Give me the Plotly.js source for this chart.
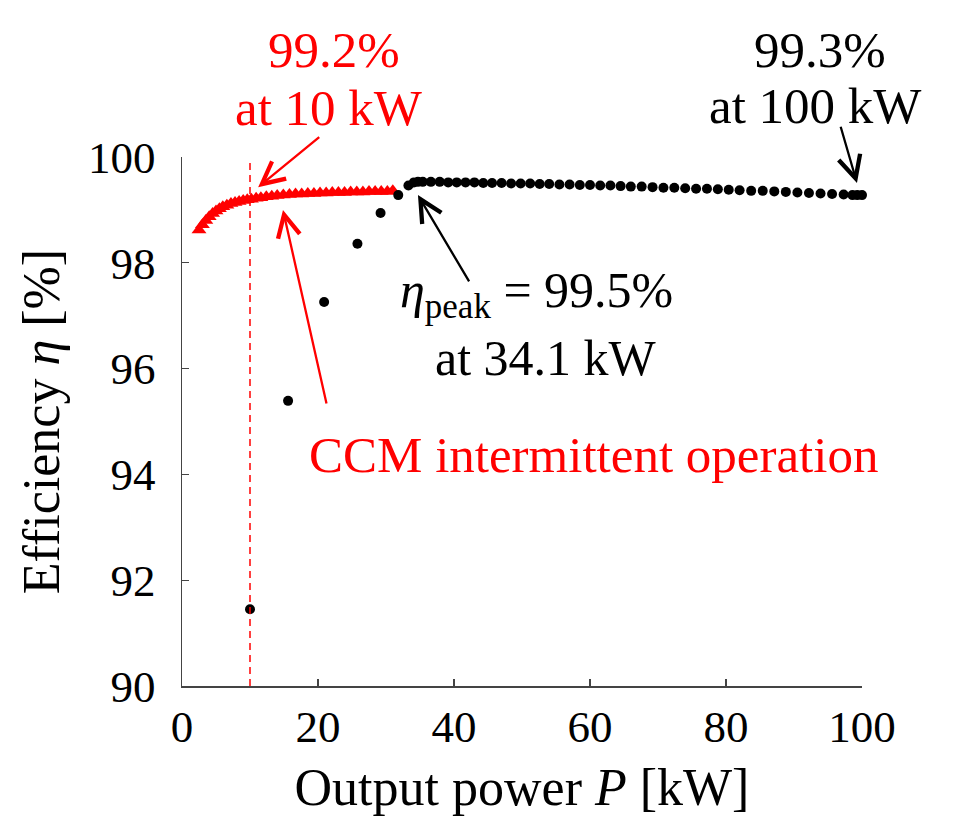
<!DOCTYPE html>
<html>
<head>
<meta charset="utf-8">
<script src="https://cdn.plot.ly/plotly-3.0.1.min.js"></script>
<style>
html,body{margin:0;padding:0;background:#fff;}
#chart{width:960px;height:821px;}
#chart svg text{font-family:'Liberation Serif','DejaVu Serif' !important;}
</style>
</head>
<body>
<div id="chart"></div>
<script>
// CCM intermittent operation (red triangles)
const ccmPower = [2.5, 3.0, 3.5, 4.0, 4.5, 5.0, 5.5, 6.0, 6.6, 7.2, 7.8, 8.4, 9.0, 9.6, 10.2, 10.9, 11.6, 12.4, 13.2, 14.0, 14.9, 15.8, 16.7, 17.6, 18.5, 19.4, 20.3, 21.2, 22.1, 23.0, 23.9, 24.8, 25.7, 26.6, 27.5, 28.4, 29.3, 30.2, 31.0];
const ccmEff = [98.62, 98.72, 98.80, 98.87, 98.93, 98.98, 99.02, 99.06, 99.09, 99.12, 99.14, 99.16, 99.18, 99.19, 99.20, 99.22, 99.23, 99.25, 99.26, 99.27, 99.28, 99.29, 99.30, 99.30, 99.31, 99.31, 99.32, 99.32, 99.33, 99.33, 99.33, 99.34, 99.34, 99.34, 99.35, 99.35, 99.35, 99.35, 99.36];

// Normal operation (black dots)
const normPower = [10.0, 15.6, 20.9, 25.8, 29.2, 31.8, 33.3, 34.1, 34.7, 35.4, 36.6, 37.9, 39.15, 40.4, 41.7, 43.0, 44.3, 45.6, 47.0, 48.4, 49.8, 51.2, 52.6, 54.0, 55.5, 57.0, 58.5, 60.0, 61.5, 63.0, 64.5, 66.0, 67.6, 69.2, 70.8, 72.4, 74.0, 75.6, 77.2, 78.8, 80.4, 82.0, 83.7, 85.4, 87.1, 88.8, 90.5, 92.2, 93.9, 95.6, 97.3, 98.6, 99.3, 100.0];
const normEff = [91.45, 95.39, 97.26, 98.36, 98.94, 99.28, 99.46, 99.52, 99.53, 99.53, 99.53, 99.53, 99.52, 99.52, 99.52, 99.52, 99.51, 99.51, 99.51, 99.50, 99.50, 99.50, 99.49, 99.49, 99.48, 99.48, 99.47, 99.47, 99.46, 99.46, 99.45, 99.44, 99.44, 99.43, 99.42, 99.42, 99.41, 99.40, 99.40, 99.39, 99.38, 99.37, 99.36, 99.36, 99.35, 99.34, 99.33, 99.32, 99.31, 99.30, 99.29, 99.28, 99.28, 99.28];

const xTicks = [0, 20, 40, 60, 80, 100];
const yTicks = [90, 92, 94, 96, 98, 100];

const FONT = 'Liberation Serif, DejaVu Serif';
const RED = '#ff0000';

const traces = [
  {x: ccmPower, y: ccmEff, type: 'scatter', mode: 'markers',
   marker: {symbol: 'triangle-up', size: 13, color: RED}, cliponaxis: false, hoverinfo: 'skip'},
  {x: normPower, y: normEff, type: 'scatter', mode: 'markers',
   marker: {symbol: 'circle', size: 10, color: '#000'}, cliponaxis: false, hoverinfo: 'skip'}
];

// text annotations positioned in paper coordinates (plot area spans pixels 157..686 vertically)
function txt(text, x, py, color, size) {
  return {text: text, x: x, y: (686 - py) / 529, xref: 'x', yref: 'paper', showarrow: false,
    xanchor: 'center', yanchor: 'middle', font: {family: FONT, size: size || 51, color: color}};
}
function arr(x, y, ax, ay, color) {
  return {text: '', x: x, y: y, ax: ax, ay: ay, xref: 'x', yref: 'y', axref: 'x', ayref: 'y',
    showarrow: true, arrowhead: 5, arrowsize: 1.9, arrowwidth: 2.3, arrowcolor: color};
}

const layout = {
  width: 960, height: 821,
  margin: {l: 182, r: 98, t: 157, b: 135},
  paper_bgcolor: '#fff', plot_bgcolor: '#fff',
  showlegend: false,
  xaxis: {range: [0, 100], tickvals: xTicks, ticktext: xTicks.map(String),
    ticks: 'inside', ticklen: 7, tickwidth: 1.2, tickcolor: '#444',
    showline: true, linecolor: '#444', linewidth: 1.5, showgrid: false, zeroline: false,
    tickfont: {family: FONT, size: 45, color: '#000'}, ticklabelstandoff: 0,
    title: {text: 'Output power <i>P</i> [kW]', font: {family: FONT, size: 52, color: '#000'}, standoff: 18}},
  yaxis: {range: [90, 100], tickvals: yTicks, ticktext: yTicks.map(String),
    ticks: 'inside', ticklen: 7, tickwidth: 1.2, tickcolor: '#444',
    showline: true, linecolor: '#444', linewidth: 1.5, showgrid: false, zeroline: false,
    tickfont: {family: FONT, size: 45, color: '#000'}, ticklabelstandoff: 16,
    title: {text: 'Efficiency <i>η</i> [%]', font: {family: FONT, size: 52, color: '#000'}, standoff: 12}},
  shapes: [
    {type: 'line', xref: 'x', yref: 'y', x0: 10, x1: 10, y0: 90, y1: 99.9,
     line: {color: RED, width: 1.5, dash: '7px,5px'}}
  ],
  annotations: [
    txt('99.2%', 22.35, 50, RED),
    txt('at 10 kW', 21.6, 108, RED),
    arr(11.2, 99.43, 20.4, 100.4, RED),
    txt('CCM intermittent operation', 60.5, 455, RED),
    arr(14.85, 99.0, 21.3, 95.31, RED),
    txt('<i>η</i><sub>peak</sub> = 99.5%', 52.1, 294, '#000', 50),
    txt('at 34.1 kW', 53.5, 358, '#000', 50),
    arr(34.7, 99.28, 42.35, 97.62, '#000'),
    txt('99.3%', 93.8, 50, '#000'),
    txt('at 100 kW', 93.1, 106, '#000'),
    arr(99.26, 99.51, 96.8, 100.6, '#000')
  ]
};

Plotly.newPlot('chart', traces, layout, {staticPlot: true, displayModeBar: false});
</script>
</body>
</html>
